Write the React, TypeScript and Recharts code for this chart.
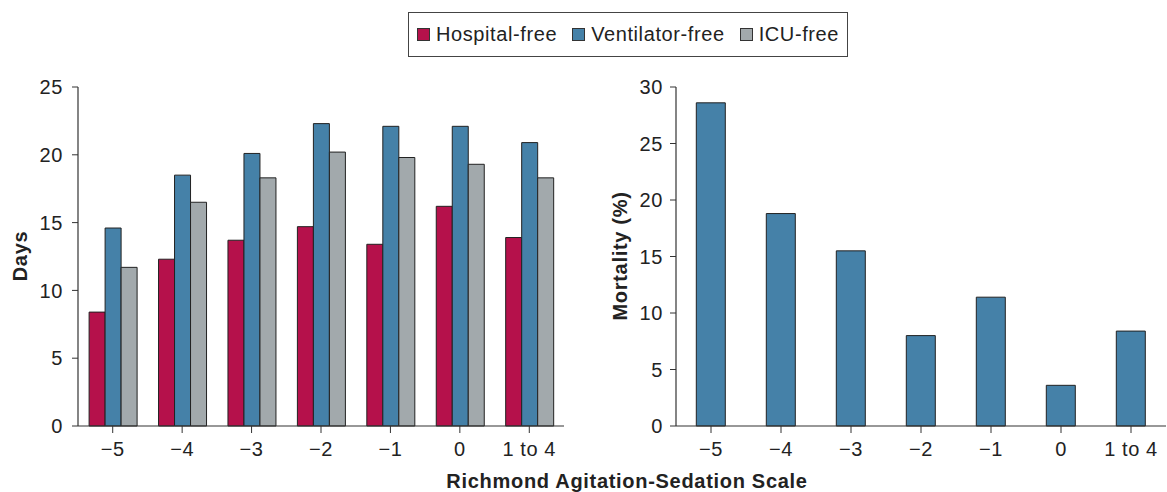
import { BarChart, Bar, XAxis, YAxis } from "recharts";

const categories = ["\u22125", "\u22124", "\u22123", "\u22122", "\u22121", "0", "1 to 4"];
const hospitalFree = [8.4, 12.3, 13.7, 14.7, 13.4, 16.2, 13.9];
const ventilatorFree = [14.6, 18.5, 20.1, 22.3, 22.1, 22.1, 20.9];
const icuFree = [11.7, 16.5, 18.3, 20.2, 19.8, 19.3, 18.3];
const mortality = [28.6, 18.8, 15.5, 8.0, 11.4, 3.6, 8.4];
const daysTicks = [0, 5, 10, 15, 20, 25];
const mortalityTicks = [0, 5, 10, 15, 20, 25, 30];

const series = [
  { key: "hospital", name: "Hospital-free", color: "#b5114b" },
  { key: "ventilator", name: "Ventilator-free", color: "#4581a8" },
  { key: "icu", name: "ICU-free", color: "#a2a9ac" },
];

const daysData = categories.map((c, i) => ({
  name: c,
  hospital: hospitalFree[i],
  ventilator: ventilatorFree[i],
  icu: icuFree[i],
}));
const mortalityData = categories.map((c, i) => ({ name: c, mortality: mortality[i] }));

const FONT = "'Liberation Sans', Arial, Helvetica, sans-serif";
const tickStyle = { fontSize: 20, fill: "#222", fontFamily: FONT, letterSpacing: 0.6 };
const axisLine = { stroke: "#333", strokeWidth: 1.2 };
const titleStyle = {
  position: "absolute" as const,
  fontWeight: "bold" as const,
  fontSize: 20,
  letterSpacing: 0.7,
  color: "#222",
  whiteSpace: "nowrap" as const,
};

export default function App() {
  return (
    <div style={{ position: "absolute", left: 0, top: 0, width: 1167, height: 492, background: "#fff", fontFamily: FONT }}>
      {/* legend */}
      <div
        style={{
          position: "absolute",
          left: 408,
          top: 12,
          width: 438,
          height: 43,
          border: "1.5px solid #444",
          display: "flex",
          alignItems: "center",
          justifyContent: "center",
          gap: 15,
          fontSize: 20,
          letterSpacing: 0.6,
          color: "#222",
        }}
      >
        {series.map((s) => (
          <div key={s.key} style={{ display: "flex", alignItems: "center" }}>
            <span style={{ display: "inline-block", width: 11, height: 11, background: s.color, border: "1px solid #333", marginRight: 6 }} />
            {s.name}
          </div>
        ))}
      </div>

      <div style={{ position: "absolute", left: 0, top: 0 }}>
        <BarChart
          width={580}
          height={470}
          data={daysData}
          margin={{ top: 87, right: 16, left: 18, bottom: 0 }}
          barCategoryGap="16%"
          barGap={0}
        >
          <XAxis
            dataKey="name"
            tick={tickStyle}
            tickLine={{ stroke: "#333" }}
            tickSize={7}
            tickMargin={9}
            axisLine={axisLine}
            height={44}
            interval={0}
          />
          <YAxis
            domain={[0, 25]}
            ticks={daysTicks}
            tick={tickStyle}
            tickLine={{ stroke: "#333" }}
            tickSize={6}
            tickMargin={9}
            axisLine={axisLine}
            width={60}
          />
          {series.map((s) => (
            <Bar key={s.key} dataKey={s.key} name={s.name} fill={s.color} stroke="#222" strokeWidth={1} isAnimationActive={false} />
          ))}
        </BarChart>
      </div>

      <div style={{ position: "absolute", left: 590, top: 0 }}>
        <BarChart
          width={577}
          height={470}
          data={mortalityData}
          margin={{ top: 87, right: 1, left: 26, bottom: 0 }}
          barCategoryGap="29%"
        >
          <XAxis
            dataKey="name"
            tick={tickStyle}
            tickLine={{ stroke: "#333" }}
            tickSize={7}
            tickMargin={9}
            axisLine={axisLine}
            height={44}
            interval={0}
          />
          <YAxis
            domain={[0, 30]}
            ticks={mortalityTicks}
            tick={tickStyle}
            tickLine={{ stroke: "#333" }}
            tickSize={6}
            tickMargin={7}
            axisLine={axisLine}
            width={60}
          />
          <Bar dataKey="mortality" name="Mortality" fill="#4581a8" stroke="#222" strokeWidth={1} isAnimationActive={false} />
        </BarChart>
      </div>

      {/* axis titles */}
      <div style={{ ...titleStyle, left: 20, top: 256, transform: "translate(-50%, -50%) rotate(-90deg)" }}>Days</div>
      <div style={{ ...titleStyle, left: 620, top: 256, transform: "translate(-50%, -50%) rotate(-90deg)" }}>Mortality (%)</div>
      <div style={{ ...titleStyle, left: 627, top: 481, transform: "translate(-50%, -50%)" }}>Richmond Agitation-Sedation Scale</div>
    </div>
  );
}
